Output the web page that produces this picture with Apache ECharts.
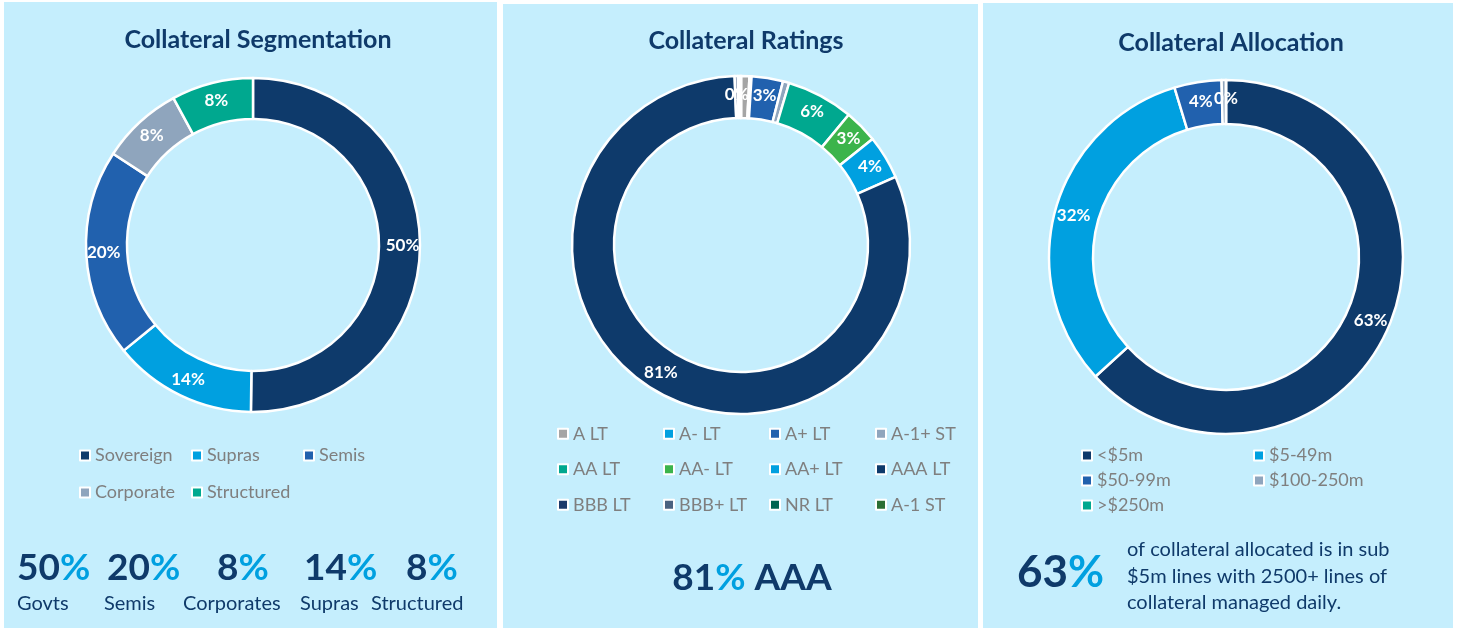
<!DOCTYPE html>
<html>
<head>
<meta charset="utf-8">
<script src="https://cdn.jsdelivr.net/npm/echarts@6/dist/echarts.min.js"></script>
<style>
  html, body { margin: 0; padding: 0; background: #fff; }
  #chart { width: 1458px; height: 628px; }
</style>
</head>
<body>
<div id="chart"></div>
<script>
// chart data
const segNames = ["Sovereign", "Supras", "Semis", "Corporate", "Structured"];
const segValues = [50.2, 13.9, 20.1, 7.9, 7.9];
const segColors = ["#0e3a6b", "#00a0e0", "#2161ae", "#8fa5bd", "#00a88f"];

const ratingNames = ["A LT", "A- LT", "A+ LT", "A-1+ ST", "AA LT", "AA- LT", "AA+ LT", "AAA LT", "BBB LT", "BBB+ LT", "NR LT", "A-1 ST"];
const ratingValues = [0.8, 0.2, 3.0, 0.6, 6.4, 3.2, 4.2, 81.0, 0.3, 0.2, 0.1, 0.0];
const ratingColors = ["#a5a5a5", "#00a0e0", "#2161ae", "#8fa5bd", "#00a88f", "#3cb44b", "#00a0e0", "#0e3a6b", "#1b3a6b", "#4a6280", "#006450", "#2a6e35"];

const allocNames = ["<$5m", "$5-49m", "$50-99m", "$100-250m", ">$250m"];
const allocValues = [63.2, 32.1, 4.3, 0.4, 0.0];
const allocColors = ["#0e3a6b", "#00a0e0", "#2161ae", "#8fa5bd", "#00a88f"];

// headline figures under each chart
const segSummaryNums = ["50", "20", "8", "14", "8"];
const segSummaryLabels = ["Govts", "Semis", "Corporates", "Supras", "Structured"];
const ratingSummary = ["81", "AAA"];
const allocSummary = ["63", "of collateral allocated is in sub", "$5m lines with 2500+ lines of", "collateral managed daily."];

const NAVY = "#0f3a6a";
const BLUE = "#00a0e0";
const BG = "#c5eefd";
const FONT = "Lato, 'Open Sans', sans-serif";

const chart = echarts.init(document.getElementById("chart"));

const toData = (names, values, colors) =>
  names.map((n, i) => ({ name: n, value: values[i], itemStyle: { color: colors[i] } }));

const pieSeries = (center, radius, data) => ({
  type: "pie",
  center: center,
  radius: radius,
  startAngle: 90,
  clockwise: true,
  avoidLabelOverlap: false,
  itemStyle: { borderColor: "#fff", borderWidth: 2.5 },
  label: {
    show: true,
    position: "inside",
    formatter: (p) => Math.round(p.percent) + "%",
    color: "#fff",
    fontWeight: "bold",
    fontSize: 17,
    fontFamily: FONT,
  },
  labelLine: { show: false },
  emphasis: { disabled: true },
  data: data,
});

const legendBase = (names, left, top, width, textWidth, lineHeight) => ({
  data: names,
  left: left,
  top: top,
  width: width,
  orient: "horizontal",
  itemWidth: 10,
  itemHeight: 10,
  itemGap: 0,
  icon: "rect",
  selectedMode: false,
  itemStyle: { borderColor: "#fff", borderWidth: 2 },
  textStyle: {
    color: "#7f7f7f",
    fontSize: 18,
    fontFamily: FONT,
    width: textWidth,
    lineHeight: lineHeight,
    padding: [0, 0, 0, 0],
  },
});

const titleStyle = { color: NAVY, fontSize: 25, fontWeight: "bold", fontFamily: FONT };

// panel backgrounds and summary text
const graphics = [
  { type: "rect", shape: { x: 4, y: 2, width: 493, height: 626 }, style: { fill: BG }, z: -10 },
  { type: "rect", shape: { x: 503, y: 4, width: 475, height: 624 }, style: { fill: BG }, z: -10 },
  { type: "rect", shape: { x: 983, y: 3, width: 470, height: 625 }, style: { fill: BG }, z: -10 },
];

const numLeft = [17, 107, 217, 304, 406];
const labLeft = [17, 104, 183, 300, 371];
segSummaryNums.forEach((n, i) => {
  graphics.push({
    type: "text", x: numLeft[i], y: 568,
    style: {
      text: "{n|" + n + "}{p|%}",
      verticalAlign: "middle",
      rich: {
        n: { fontSize: 37, fontWeight: "bold", fill: NAVY, fontFamily: FONT },
        p: { fontSize: 37, fontWeight: "bold", fill: BLUE, fontFamily: FONT },
      },
    },
  });
  graphics.push({
    type: "text", x: labLeft[i], y: 604,
    style: { text: segSummaryLabels[i], fontSize: 20, fill: NAVY, fontFamily: FONT, verticalAlign: "middle" },
  });
});

graphics.push({
  type: "text", x: 752, y: 578,
  style: {
    text: "{n|" + ratingSummary[0] + "}{p|%}{n| " + ratingSummary[1] + "}",
    align: "center",
    verticalAlign: "middle",
    rich: {
      n: { fontSize: 37, fontWeight: "bold", fill: NAVY, fontFamily: FONT },
      p: { fontSize: 37, fontWeight: "bold", fill: BLUE, fontFamily: FONT },
    },
  },
});

graphics.push({
  type: "text", x: 1017, y: 573,
  style: {
    text: "{n|" + allocSummary[0] + "}{p|%}",
    verticalAlign: "middle",
    rich: {
      n: { fontSize: 44, fontWeight: "bold", fill: NAVY, fontFamily: FONT },
      p: { fontSize: 44, fontWeight: "bold", fill: BLUE, fontFamily: FONT },
    },
  },
});
allocSummary.slice(1).forEach((line, i) => {
  graphics.push({
    type: "text", x: 1127, y: 550 + i * 26.5,
    style: { text: line, fontSize: 20, fill: NAVY, fontFamily: FONT, verticalAlign: "middle" },
  });
});

const option = {
  backgroundColor: "#fff",
  animation: false,
  title: [
    { text: "Collateral Segmentation", left: 253, top: 22, textAlign: "center", textStyle: titleStyle },
    { text: "Collateral Ratings", left: 741, top: 23, textAlign: "center", textStyle: titleStyle },
    { text: "Collateral Allocation", left: 1226, top: 25, textAlign: "center", textStyle: titleStyle },
  ],
  legend: [
    legendBase(segNames, 74, 432, 345, 96, 37),
    legendBase(ratingNames, 552, 411, 430, 90, 35.5),
    legendBase(allocNames, 1076, 438, 350, 156, 25),
  ],
  graphic: graphics,
  series: [
    pieSeries([253, 245], [126, 167], toData(segNames, segValues, segColors)),
    pieSeries([741, 245], [127, 169], toData(ratingNames, ratingValues, ratingColors)),
    pieSeries([1226, 257], [133, 177], toData(allocNames, allocValues, allocColors)),
  ],
};

chart.setOption(option);
window.addEventListener("resize", () => chart.resize());
</script>
</body>
</html>
